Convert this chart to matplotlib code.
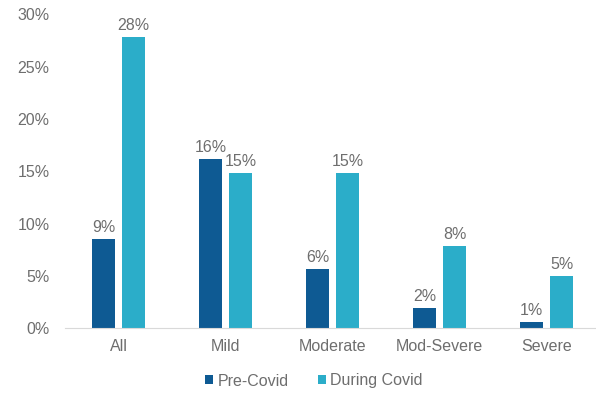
import numpy as np
import matplotlib.pyplot as plt
from matplotlib.ticker import PercentFormatter

categories = ['All', 'Mild', 'Moderate', 'Mod-Severe', 'Severe']
pre_covid = [8.5, 16.2, 5.6, 1.9, 0.6]
during_covid = [27.8, 14.8, 14.8, 7.8, 5.0]
pre_labels = ['9%', '16%', '6%', '2%', '1%']
during_labels = ['28%', '15%', '15%', '8%', '5%']

plt.rcParams['font.family'] = ['Liberation Sans', 'DejaVu Sans']
text_color = '#6e6e6e'
dark = '#0e5a93'
light = '#2badc9'
fs = 11.5

fig = plt.figure(figsize=(5.96, 3.97), dpi=100)
ax = fig.add_axes([65 / 596, 1 - 328 / 397, 531 / 596, (328 - 14.5) / 397])

x = np.arange(len(categories))
w = 0.215
off = 0.14
b1 = ax.bar(x - off, pre_covid, w, color=dark, label='Pre-Covid')
b2 = ax.bar(x + off, during_covid, w, color=light, label='During Covid')

for bars, labs in ((b1, pre_labels), (b2, during_labels)):
    for rect, lab in zip(bars, labs):
        ax.annotate(lab, (rect.get_x() + rect.get_width() / 2, rect.get_height()),
                    xytext=(0, 3), textcoords='offset points', ha='center', va='bottom',
                    fontsize=fs, color=text_color)

ax.set_ylim(0, 30)
ax.set_xlim(-0.5, 4.46)
ax.set_yticks(range(0, 31, 5))
ax.yaxis.set_major_formatter(PercentFormatter(decimals=0))
ax.set_xticks(x)
ax.set_xticklabels(categories)
ax.tick_params(axis='both', length=0, labelsize=fs, colors=text_color)
ax.tick_params(axis='y', pad=11)
ax.tick_params(axis='x', pad=8)
for s in ('top', 'right', 'left'):
    ax.spines[s].set_visible(False)
ax.spines['bottom'].set_color('#d9d9d9')

fig.legend(loc='center', bbox_to_anchor=(314 / 596, 1 - 381 / 397), ncol=2, frameon=False,
           handlelength=0.5, handleheight=0.5, handletextpad=0.3, columnspacing=1.8,
           fontsize=fs, labelcolor=text_color)

fig.savefig('out.png', dpi=100)
